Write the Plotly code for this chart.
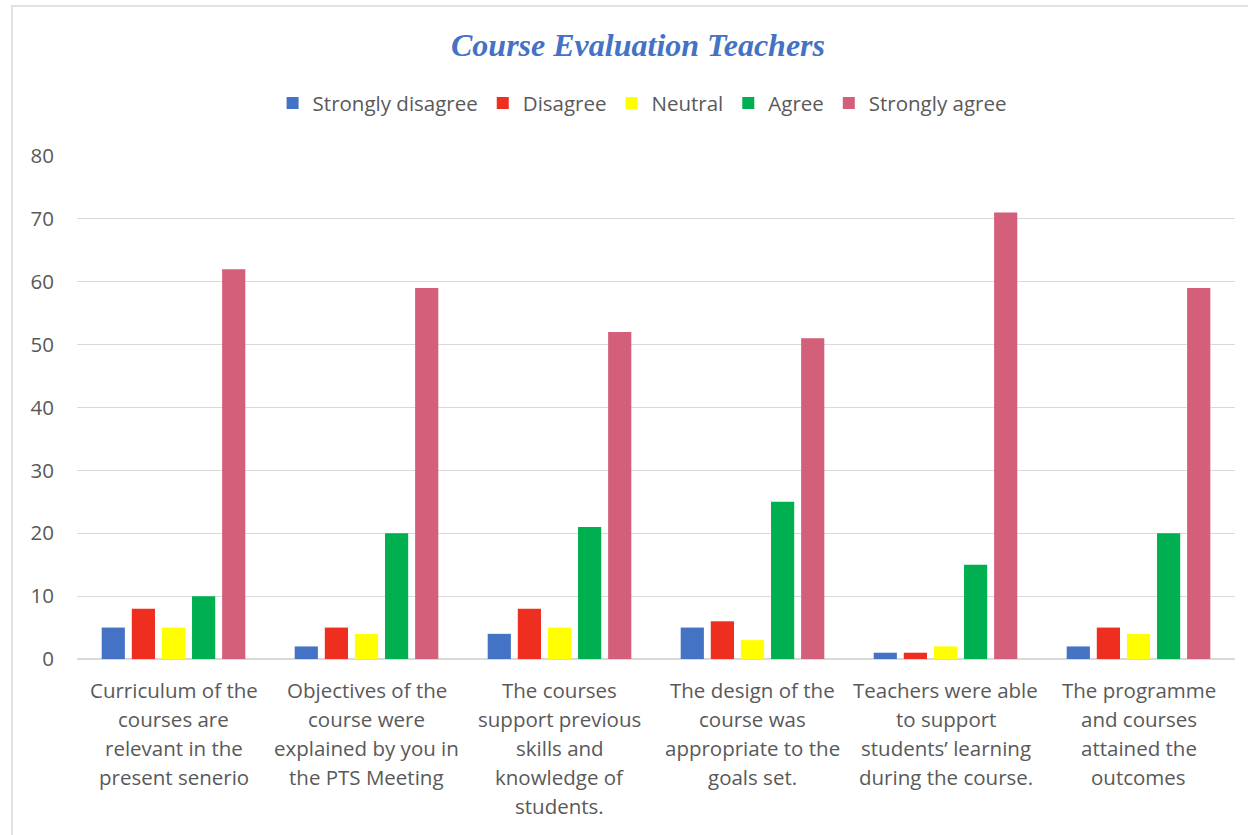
import plotly.graph_objects as go

categories = [
    "Curriculum of the courses are relevant in the present senerio",
    "Objectives of the course were explained by you in the PTS Meeting",
    "The courses support previous skills and knowledge of students.",
    "The design of the course was appropriate to the goals set.",
    "Teachers were able to support students’ learning during the course.",
    "The programme and courses attained the outcomes",
]
category_lines = [
    ["Curriculum of the", "courses are", "relevant in the", "present senerio"],
    ["Objectives of the", "course were", "explained by you in", "the PTS Meeting"],
    ["The courses", "support previous", "skills and", "knowledge of", "students."],
    ["The design of the", "course was", "appropriate to the", "goals set."],
    ["Teachers were able", "to support", "students’ learning", "during the course."],
    ["The programme", "and courses", "attained the", "outcomes"],
]
series_names = ["Strongly disagree", "Disagree", "Neutral", "Agree", "Strongly agree"]
strongly_disagree = [5, 2, 4, 5, 1, 2]
disagree = [8, 5, 8, 6, 1, 5]
neutral = [5, 4, 5, 3, 2, 4]
agree = [10, 20, 21, 25, 15, 20]
strongly_agree = [62, 59, 52, 51, 71, 59]
y_ticks = [0, 10, 20, 30, 40, 50, 60, 70, 80]

colors = ["#4472C4", "#EE2E1F", "#FFFF00", "#00B050", "#D35F7A"]
values = [strongly_disagree, disagree, neutral, agree, strongly_agree]

FONT = "Open Sans"
FS = 20.5
TXT = "#595959"
fig = go.Figure()
for name, vals, col in zip(series_names, values, colors):
    fig.add_trace(go.Bar(name=name, x=categories, y=vals, marker=dict(color=col, line=dict(width=0))))

# category labels, one annotation per line (Excel-like line spacing)
for cat, lines in zip(categories, category_lines):
    for i, line in enumerate(lines):
        fig.add_annotation(x=cat, xref="x", y=0, yref="paper", text=line, showarrow=False,
                           xanchor="center", yanchor="middle", yshift=-31 - 29 * i,
                           font=dict(family=FONT, size=FS, color=TXT))

fig.update_layout(
    width=1248, height=835,
    paper_bgcolor="white", plot_bgcolor="white",
    margin=dict(l=77, r=13, t=156, b=176),
    barmode="group", bargap=0.22, bargroupgap=0.23,
    font=dict(family=FONT, size=FS, color=TXT),
    title=dict(text="<b><i>Course Evaluation Teachers</i></b>", x=(638) / 1248, xanchor="center",
               y=1 - 45 / 835, yanchor="middle",
               font=dict(family="Liberation Serif", size=32, color="#4472C4")),
    legend=dict(orientation="h", x=0.488, xanchor="center", y=1.105, yanchor="middle",
                font=dict(family=FONT, size=FS, color=TXT), traceorder="normal",
                itemwidth=30),
    showlegend=True,
)
fig.update_yaxes(range=[0, 80], tickvals=y_ticks, showgrid=True, gridcolor="#D9D9D9", gridwidth=1,
                 zeroline=True, zerolinecolor="#D9D9D9", zerolinewidth=1.5, showline=False,
                 ticks="", ticklabelstandoff=22, tickfont=dict(family=FONT, size=FS, color=TXT))
fig.update_xaxes(showline=False, ticks="", showticklabels=False)
fig.add_shape(type="rect", xref="paper", yref="paper",
              x0=(12 - 77) / 1158, x1=(1260 - 77) / 1158,
              y0=(659 - 850) / 503, y1=(659 - 6) / 503,
              line=dict(color="#D9D9D9", width=1.5), fillcolor="rgba(0,0,0,0)", layer="below")
fig.write_html("out.html", config={"displayModeBar": False},
               post_script="document.body.style.margin='0';document.body.style.overflow='hidden';")
